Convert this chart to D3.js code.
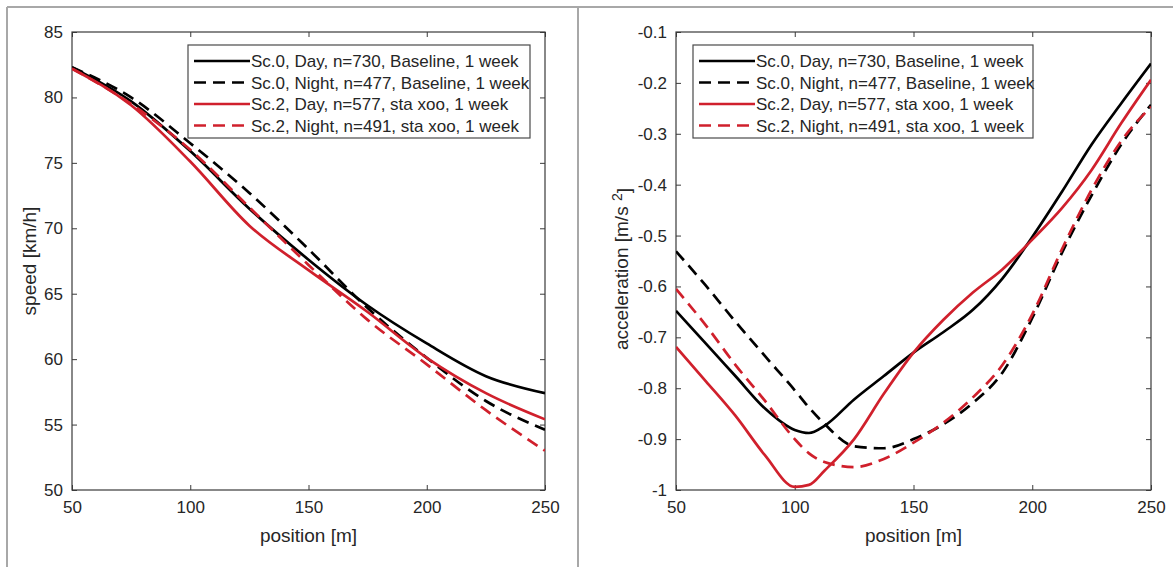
<!DOCTYPE html>
<html><head><meta charset="utf-8">
<script src="https://cdn.jsdelivr.net/npm/d3@7"></script>
<style>body{margin:0;background:#fff;}svg{display:block;font-family:"Liberation Sans",Arial,sans-serif;}</style>
</head><body><svg id="c" width="1173" height="567"></svg>
<script>
const positions = [50,62.5,75,87.5,100,106,112.5,125,137.5,150,162.5,175,187.5,200,212.5,225,237.5,250];
const speedPos = [50,75,100,125,150,175,200,225,250];
const speedSc0Day   = [82.3,79.7,75.9,71.5,67.6,64.1,61.2,58.7,57.4];
const speedSc0Night = [82.3,80.0,76.5,72.7,68.4,63.9,60.1,56.8,54.6];
const speedSc2Day   = [82.2,79.4,75.1,70.2,66.8,63.6,60.1,57.4,55.4];
const speedSc2Night = [82.2,79.5,76.0,71.6,67.2,63.0,59.6,56.1,53.0];
const accSc0Day   = [-0.648,-0.712,-0.776,-0.840,-0.882,-0.888,-0.874,-0.822,-0.776,-0.730,-0.690,-0.646,-0.584,-0.503,-0.414,-0.321,-0.240,-0.162];
const accSc0Night = [-0.531,-0.598,-0.669,-0.737,-0.804,-0.838,-0.870,-0.914,-0.918,-0.900,-0.871,-0.829,-0.769,-0.662,-0.534,-0.421,-0.321,-0.243];
const accSc2Day   = [-0.719,-0.786,-0.854,-0.932,-0.994,-0.990,-0.962,-0.900,-0.811,-0.730,-0.666,-0.612,-0.566,-0.508,-0.446,-0.371,-0.279,-0.194];
const accSc2Night = [-0.605,-0.676,-0.754,-0.825,-0.900,-0.928,-0.945,-0.955,-0.939,-0.907,-0.868,-0.818,-0.754,-0.655,-0.527,-0.410,-0.314,-0.247];
const seriesNames = ["Sc.0, Day, n=730, Baseline, 1 week","Sc.0, Night, n=477, Baseline, 1 week","Sc.2, Day, n=577, sta xoo, 1 week","Sc.2, Night, n=491, sta xoo, 1 week"];
const xTicks = [50,100,150,200,250];
const speedTicks = [50,55,60,65,70,75,80,85];
const accTicks = [-1,-0.9,-0.8,-0.7,-0.6,-0.5,-0.4,-0.3,-0.2,-0.1];

const RED = "#d0202c", BLK = "#000000", AX = "#3a3a3a", TXT = "#262626";
const styles = [{c:BLK,d:null},{c:BLK,d:"12,7"},{c:RED,d:null},{c:RED,d:"12,7"}];
const FONT = "'Liberation Sans',Arial,sans-serif";

const svg = d3.select("#c");
svg.append("line").attr("x1",7).attr("x2",1173).attr("y1",7).attr("y2",7).attr("stroke","#a8a8a8").attr("stroke-width",2);
svg.append("line").attr("x1",7).attr("x2",7).attr("y1",7).attr("y2",567).attr("stroke","#a8a8a8").attr("stroke-width",2);
svg.append("line").attr("x1",578).attr("x2",578).attr("y1",7).attr("y2",567).attr("stroke","#a8a8a8").attr("stroke-width",2);

function panel(opt){
  const x = d3.scaleLinear().domain([50,250]).range([opt.x0,opt.x1]);
  const y = d3.scaleLinear().domain(opt.ydom).range([opt.y1,opt.y0]);
  const g = svg.append("g");
  const ax = d3.axisBottom(x).tickValues(xTicks).tickSize(-5).tickFormat(d=>String(d)).tickPadding(9);
  const ay = d3.axisLeft(y).tickValues(opt.ticks).tickSize(-5).tickFormat(d=>String(d)).tickPadding(9);
  const gx = g.append("g").attr("transform",`translate(0,${opt.y1})`).call(ax);
  const gy = g.append("g").attr("transform",`translate(${opt.x0},0)`).call(ay);
  const gxt = g.append("g").attr("transform",`translate(0,${opt.y0})`).call(d3.axisTop(x).tickValues(xTicks).tickSize(-5).tickFormat(""));
  const gyr = g.append("g").attr("transform",`translate(${opt.x1},0)`).call(d3.axisRight(y).tickValues(opt.ticks).tickSize(-5).tickFormat(""));
  [gx,gy,gxt,gyr].forEach(a=>{a.select(".domain").remove();a.selectAll("line").attr("stroke",AX);
    a.selectAll("text").attr("fill",TXT).style("font-size","17px").style("font-family",FONT);});
  gx.selectAll("text").attr("dy","0.85em");
  g.append("rect").attr("x",opt.x0).attr("y",opt.y0).attr("width",opt.x1-opt.x0).attr("height",opt.y1-opt.y0)
    .attr("fill","none").attr("stroke",AX).attr("stroke-width",1.2);
  const line = d3.line().x(d=>x(d[0])).y(d=>y(d[1])).curve(d3.curveMonotoneX);
  const clip = "clip"+opt.x0;
  svg.append("clipPath").attr("id",clip).append("rect").attr("x",opt.x0).attr("y",opt.y0).attr("width",opt.x1-opt.x0).attr("height",opt.y1-opt.y0);
  const lg = g.append("g").attr("clip-path",`url(#${clip})`);
  opt.series.forEach((s,i)=>{
    const pts = opt.xs.map((p,j)=>[p,s[j]]);
    lg.append("path").attr("d",line(pts)).attr("fill","none").attr("stroke",styles[i].c)
      .attr("stroke-width",2.7).attr("stroke-dasharray",styles[i].d).attr("stroke-linejoin","round");
  });
  g.append("text").attr("x",(opt.x0+opt.x1)/2).attr("y",542).attr("text-anchor","middle").attr("fill",TXT)
    .style("font-size","19px").text("position [m]");
  const yl = g.append("text").attr("transform",`translate(${opt.ylx},${opt.yly}) rotate(-90)`).attr("text-anchor","middle")
    .attr("fill",TXT).style("font-size","19px");
  opt.ylabel(yl);
  const L = opt.leg;
  g.append("rect").attr("x",L.x).attr("y",45).attr("width",L.w).attr("height",93).attr("fill","#fff").attr("stroke","#4a4a4a").attr("stroke-width",1.2);
  seriesNames.forEach((n,i)=>{
    const yy = 61 + i*21.5;
    g.append("line").attr("x1",L.x+6).attr("x2",L.x+62).attr("y1",yy).attr("y2",yy).attr("stroke",styles[i].c)
      .attr("stroke-width",2.7).attr("stroke-dasharray",styles[i].d);
    g.append("text").attr("x",L.x+63).attr("y",yy).attr("dy","0.36em").attr("fill",TXT).style("font-size","17px").text(n);
  });
}

panel({x0:72,x1:545,y0:32,y1:490,ydom:[50,85],ticks:speedTicks,
  xs:speedPos,series:[speedSc0Day,speedSc0Night,speedSc2Day,speedSc2Night],
  ylx:36,yly:261,ylabel:t=>t.text("speed [km/h]"),leg:{x:188,w:342}});
panel({x0:676,x1:1151,y0:32,y1:490,ydom:[-1,-0.1],ticks:accTicks,
  xs:positions,series:[accSc0Day,accSc0Night,accSc2Day,accSc2Night],
  ylx:628,yly:269,ylabel:t=>{t.append("tspan").text("acceleration [m/s ");t.append("tspan").attr("dy","-0.45em").style("font-size","14px").text("2");t.append("tspan").attr("dy","0.45em").text("]");},
  leg:{x:693,w:340}});
</script></body></html>
